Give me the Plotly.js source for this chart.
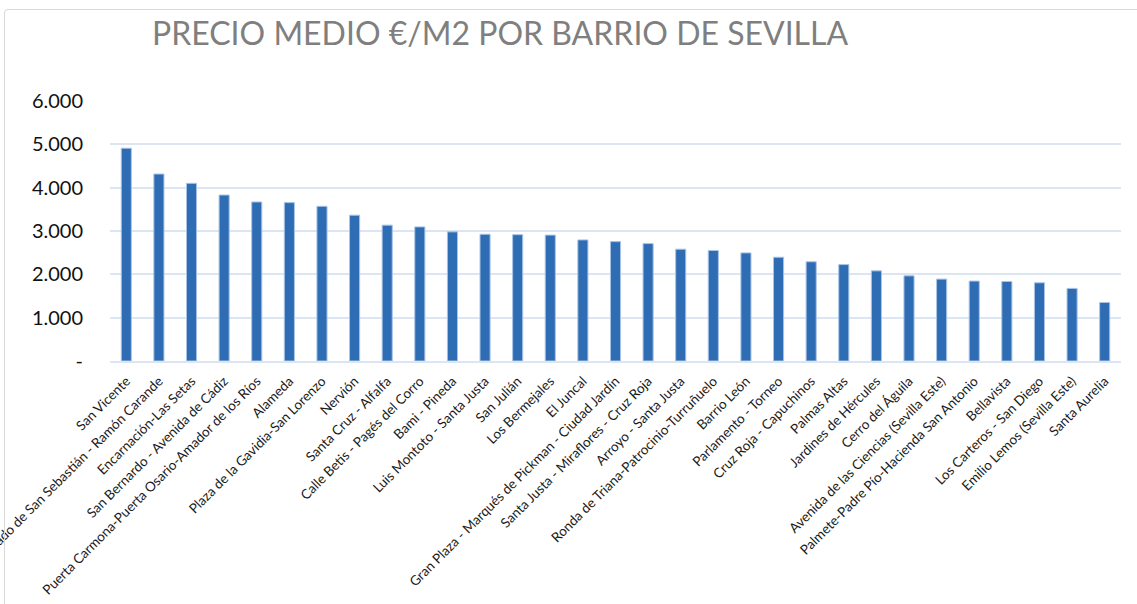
<!DOCTYPE html>
<html>
<head>
<meta charset="utf-8">
<script src="https://cdn.plot.ly/plotly-3.0.1.min.js"></script>
<style>
  html, body { margin: 0; padding: 0; background: #fff; }
  #wrap { position: relative; width: 1137px; height: 604px; overflow: hidden; }
  #chart { width: 1137px; height: 604px; }
  #frame { position: absolute; left: 4px; top: 9px; width: 1150px; height: 620px;
           border: 1px solid #D9D9D9; border-radius: 4px; pointer-events: none; }
</style>
</head>
<body>
<div id="wrap">
  <div id="chart"></div>
  <div id="frame"></div>
</div>
<script>
const categories = [
  "San Vicente",
  "Prado de San Sebastián - Ramón Carande",
  "Encarnación-Las Setas",
  "San Bernardo - Avenida de Cádiz",
  "Puerta Carmona-Puerta Osario-Amador de los Ríos",
  "Alameda",
  "Plaza de la Gavidia-San Lorenzo",
  "Nervión",
  "Santa Cruz - Alfalfa",
  "Calle Betis - Pagés del Corro",
  "Bami - Pineda",
  "Luis Montoto - Santa Justa",
  "San Julián",
  "Los Bermejales",
  "El Juncal",
  "Gran Plaza - Marqués de Pickman - Ciudad Jardín",
  "Santa Justa - Miraflores - Cruz Roja",
  "Arroyo - Santa Justa",
  "Ronda de Triana-Patrocinio-Turruñuelo",
  "Barrio León",
  "Parlamento - Torneo",
  "Cruz Roja - Capuchinos",
  "Palmas Altas",
  "Jardines de Hércules",
  "Cerro del Águila",
  "Avenida de las Ciencias (Sevilla Este)",
  "Palmete-Padre Pío-Hacienda San Antonio",
  "Bellavista",
  "Los Carteros - San Diego",
  "Emilio Lemos (Sevilla Este)",
  "Santa Aurelia"
];
const precio = [
  4910, 4315, 4100, 3830, 3670, 3655, 3570, 3365, 3135, 3095,
  2980, 2925, 2915, 2905, 2795, 2755, 2710, 2580, 2550, 2495,
  2395, 2290, 2225, 2080, 1965, 1890, 1845, 1835, 1805, 1675,
  1350
];
const yTickVals = [0, 1000, 2000, 3000, 4000, 5000, 6000];
const yTickText = ["-", "1.000", "2.000", "3.000", "4.000", "5.000", "6.000"];
const chartTitle = "PRECIO MEDIO €/M2 POR BARRIO DE SEVILLA";

const trace = {
  type: "bar",
  x: categories,
  y: precio,
  marker: { color: "#2E6DB4", line: { color: "#A9C4E6", width: 1 } },
  hoverinfo: "x+y"
};

const layout = {
  width: 1137,
  height: 604,
  paper_bgcolor: "#ffffff",
  plot_bgcolor: "#ffffff",
  margin: { l: 110, r: 16, t: 101, b: 243, pad: 0 },
  bargap: 0.69,
  showlegend: false,
  title: {
    text: chartTitle,
    font: { family: "Lato, 'Open Sans', sans-serif", size: 32, color: "#7F7F7F" },
    x: 152 / 1137, xanchor: "left", xref: "container",
    y: 1 - 34 / 604, yanchor: "middle", yref: "container"
  },
  xaxis: {
    type: "category",
    automargin: false,
    tickangle: -45,
    tickfont: { family: "Lato, 'Open Sans', sans-serif", size: 13.5, color: "#1a1a1a" },
    showline: true,
    linecolor: "#DCE6F2",
    linewidth: 2,
    showgrid: false,
    ticks: "",
    ticklabelstandoff: 5
  },
  yaxis: {
    range: [0, 6000],
    automargin: false,
    tickvals: yTickVals,
    ticktext: yTickText,
    tickfont: { family: "Lato, 'Open Sans', sans-serif", size: 20, color: "#111111" },
    showgrid: true,
    gridcolor: "#DCE6F2",
    gridwidth: 2,
    zeroline: false,
    showline: false,
    ticks: "",
    ticklabelstandoff: 26
  }
};

Plotly.newPlot("chart", [trace], layout, { displayModeBar: false, staticPlot: true });
</script>
</body>
</html>
